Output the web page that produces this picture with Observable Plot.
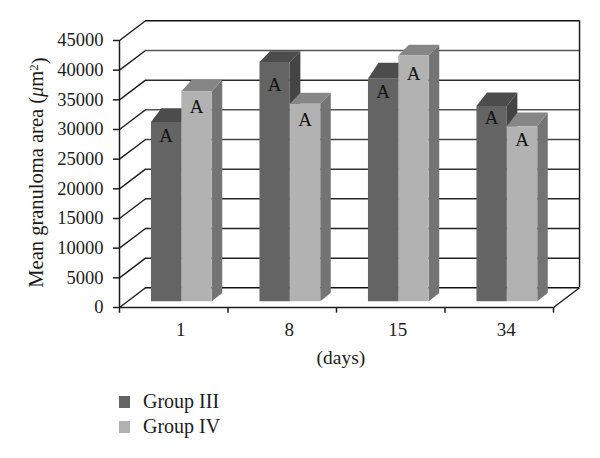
<!DOCTYPE html>
<html><head><meta charset="utf-8">
<style>
html,body{margin:0;padding:0;background:#fff;width:600px;height:458px;overflow:hidden}
svg{display:block}
#legend{margin:4px 0 0 119px;font:20px "Liberation Serif",serif;color:#1c1c1c}
#legend div{display:flex;align-items:center;height:25px}
#legend i{display:block;width:11px;height:12px;margin-right:13px}
</style>
<script src="https://cdn.jsdelivr.net/npm/d3@7"></script>
<script src="https://cdn.jsdelivr.net/npm/@observablehq/plot@0.6"></script>
</head><body>
<div id="chart"></div><div id="legend"></div>
<script>
const days = ["1","8","15","34"];
const groupIII = [30200,40300,37500,32900];
const groupIV  = [35400,33300,41400,29500];
const rearTopIII = [33590,43200,41240,36240];
const rearTopIV  = [38380,36190,44280,32870];
const labelYIII = [28840,37440,36420,31870];
const labelYIV  = [33730,31650,39290,28280];
const letterIII = ["A","A","A","A"];
const letterIV  = ["A","A","A","A"];
const yTicks = [0,5000,10000,15000,20000,25000,30000,35000,40000,45000];
const gridShade = ["#111","#222","#222","#2a2a2a","#333","#444","#555","#2a2a2a","#555","#111"];

const wallX = 0.24, wallY = 3320;
const barStart = 0.29, barW = 0.28, barDX = 0.097, barBase = 1060, barFootRise = 1400;
const palette = {
  III:{front:"#646464",side:"#444444",top:"#4c4c4c"},
  IV:{front:"#b2b2b2",side:"#747474",top:"#868686"}
};

const polys = [], labels = [];
function addBar(series, i, value, rear, labelY, letter, offset){
  const l = i + barStart + offset*barW, r = l + barW, c = palette[series], v = value + barBase;
  const face = (name, fill, pts) => pts.forEach(([x,y]) => polys.push({id:`${series}-${i}-${name}`, fill, x, y}));
  face("side", c.side, [[r,barBase],[r+barDX,barBase+barFootRise],[r+barDX,rear],[r,v]]);
  face("top", c.top, [[l,v],[r,v],[r+barDX,rear],[l+barDX,rear]]);
  face("front", c.front, [[l,barBase],[r,barBase],[r,v],[l,v]]);
  labels.push({x:(l+r)/2, y:labelY, letter});
}
days.forEach((d,i)=>{
  addBar("III", i, groupIII[i], rearTopIII[i], labelYIII[i], letterIII[i], 0);
  addBar("IV", i, groupIV[i], rearTopIV[i], labelYIV[i], letterIV[i], 1);
});

const ink = "#1c1c1c";
const plot = Plot.plot({
  width:600, height:385, marginLeft:119, marginRight:47, marginTop:40, marginBottom:78,
  style:{fontFamily:"'Liberation Serif',serif", background:"#fff", color:ink},
  x:{domain:[0,4]}, y:{domain:[0,45000]}, color:{type:"identity"},
  marks:[
    Plot.ruleY(yTicks.map((t,k)=>({t,k})),{y:d=>d.t+wallY, x1:wallX, x2:4+wallX, stroke:d=>gridShade[d.k], strokeWidth:1.5}),
    Plot.link(yTicks,{x1:0, y1:d=>d, x2:wallX, y2:d=>d+wallY, stroke:ink, strokeWidth:1.4}),
    Plot.ruleX([4+wallX],{y1:wallY, y2:45000+wallY, stroke:ink, strokeWidth:1.5}),
    Plot.link([0],{x1:4, y1:0, x2:4+wallX, y2:wallY, stroke:ink, strokeWidth:1.4}),
    Plot.line(polys,{x:"x", y:"y", z:"id", fill:"fill", stroke:"none"}),
    Plot.ruleY([0],{x1:0,x2:4,stroke:ink,strokeWidth:1.5}),
    Plot.ruleX([0],{y1:-950,y2:45000,stroke:ink,strokeWidth:1.5}),
    Plot.ruleX([1,2,3,4],{y1:-950,y2:0,stroke:ink,strokeWidth:1.5}),
    Plot.axisY({ticks:yTicks, tickSize:6, tickPadding:10, fontSize:18.5, label:null, strokeWidth:1.5, tickFormat:d=>String(d)}),
    Plot.axisX({ticks:[0.565,1.565,2.565,3.565], tickSize:0, tickPadding:15, fontSize:19, label:null, tickFormat:(d,i)=>days[i]}),
    Plot.text(labels,{x:"x", y:"y", text:"letter", fontSize:19, fill:"#111"}),
    Plot.text(["(days)"],{x:2.04, frameAnchor:"bottom", dy:56.5, fontSize:19.5}),
    Plot.text(["Mean granuloma area"],{frameAnchor:"left", textAnchor:"middle", dx:-83, dy:-1.5, rotate:-90, fontSize:20.5})
  ]
});
document.getElementById("chart").append(plot);

// rich formatting of the y-axis title: italic mu and superscript 2
d3.select(plot).selectAll("text").filter(function(){return this.textContent==="Mean granuloma area"}).each(function(){
  const t = d3.select(this); t.text("Mean granuloma area (");
  t.append("tspan").attr("font-style","italic").text("\u03bc");
  t.append("tspan").text("m");
  t.append("tspan").attr("dy","-0.4em").attr("font-size","13").text("2");
  t.append("tspan").attr("dy","0.4em").text(")");
});

const legend = d3.select("#legend");
[["Group III",palette.III.front],["Group IV",palette.IV.front]].forEach(([name,c])=>{
  const row = legend.append("div");
  row.append("i").style("background",c);
  row.append("span").text(name);
});
</script>
</body></html>
